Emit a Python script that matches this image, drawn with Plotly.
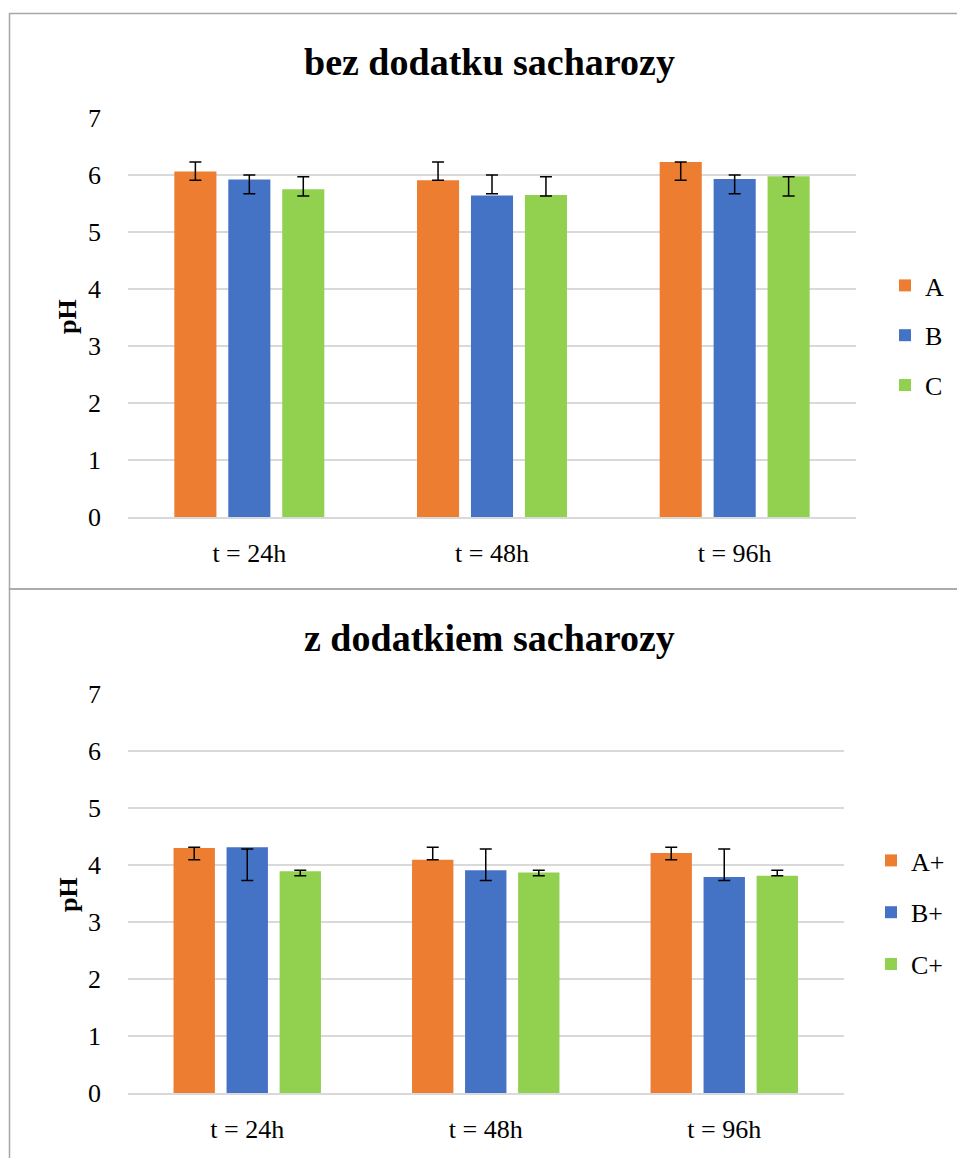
import plotly.graph_objects as go

categories = ["t = 24h", "t = 48h", "t = 96h"]
names_top = ["A", "B", "C"]
names_bottom = ["A+", "B+", "C+"]
colors = ["#ED7D31", "#4472C4", "#92D050"]

# top panel: bez dodatku sacharozy
top_A = [6.06, 5.91, 6.23]
top_B = [5.92, 5.64, 5.93]
top_C = [5.75, 5.65, 5.98]
top_err_hi = [6.23, 6.00, 5.97]   # upper end of error bar per series
top_err_lo = [5.91, 5.67, 5.63]   # lower end of error bar per series

# bottom panel: z dodatkiem sacharozy
bot_A = [4.30, 4.09, 4.21]
bot_B = [4.31, 3.91, 3.79]
bot_C = [3.89, 3.87, 3.81]
bot_err_hi = [4.31, 4.28, 3.91]
bot_err_lo = [4.09, 3.73, 3.81]

W, H = 957, 1158
FONT = "Liberation Serif"

def px_x(p):
    return p / W

def px_y(p):
    return 1 - p / H

fig = go.Figure()

def add_panel(series, names, hi, lo, xa, ya, legend):
    for i, (vals, name) in enumerate(zip(series, names)):
        plus = [hi[i] - v for v in vals]
        minus = [v - lo[i] for v in vals]
        fig.add_trace(go.Bar(
            x=categories, y=vals, name=name,
            marker=dict(color=colors[i], line=dict(width=0)),
            error_y=dict(type="data", symmetric=False, array=plus, arrayminus=minus,
                         color="black", thickness=1.5, width=6),
            xaxis=xa, yaxis=ya, legend=legend, legendgroup=legend + name,
        ))

add_panel([top_A, top_B, top_C], names_top, top_err_hi, top_err_lo, "x", "y", "legend")
add_panel([bot_A, bot_B, bot_C], names_bottom, bot_err_hi, bot_err_lo, "x2", "y2", "legend2")

grid = "#d9d9d9"
yax = dict(range=[0, 7], dtick=1, showgrid=True, gridcolor=grid, gridwidth=1.5,
           zeroline=False, showline=False, ticks="", ticklabelstandoff=26,
           automargin=False,
           tickfont=dict(family=FONT, size=26, color="black"), fixedrange=True)
xax = dict(showline=True, linecolor=grid, linewidth=1.5, ticks="", showgrid=False,
           ticklabelstandoff=12, automargin=False,
           tickfont=dict(family=FONT, size=26, color="black"))

fig.update_layout(
    template="none",
    width=W, height=H, autosize=False,
    margin=dict(l=0, r=0, t=0, b=0, autoexpand=False),
    paper_bgcolor="white", plot_bgcolor="white",
    bargap=0.333, bargroupgap=0.22, barmode="group",
    xaxis=dict(domain=[px_x(128), px_x(856)], anchor="y", **xax),
    yaxis=dict(domain=[px_y(517), px_y(118)], anchor="x", **yax),
    xaxis2=dict(domain=[px_x(128), px_x(843.5)], anchor="y2", **xax),
    yaxis2=dict(domain=[px_y(1093), px_y(694)], anchor="x2", **yax),
    legend=dict(x=px_x(885), y=px_y(262), xanchor="left", yanchor="top",
                font=dict(family=FONT, size=26, color="black"),
                tracegroupgap=13, traceorder="grouped", bgcolor="rgba(0,0,0,0)"),
    legend2=dict(x=px_x(871), y=px_y(837), xanchor="left", yanchor="top",
                 font=dict(family=FONT, size=26, color="black"),
                 tracegroupgap=15, traceorder="grouped", bgcolor="rgba(0,0,0,0)"),
    showlegend=True,
)

annotations = [
    dict(text="<b>bez dodatku sacharozy</b>", x=px_x(490), y=px_y(62)),
    dict(text="<b>z dodatkiem sacharozy</b>", x=px_x(490), y=px_y(638)),
]
for a in annotations:
    fig.add_annotation(xref="paper", yref="paper", xanchor="center", yanchor="middle",
                       showarrow=False, font=dict(family=FONT, size=38, color="black"),
                       x=a["x"], y=a["y"], text=a["text"])
for yc in (317, 895):
    fig.add_annotation(xref="paper", yref="paper", xanchor="center", yanchor="middle",
                       showarrow=False, textangle=-90, text="<b>pH</b>",
                       font=dict(family=FONT, size=26, color="black"),
                       x=px_x(68), y=px_y(yc))

border = dict(color="#a6a6a6", width=1.5)
fig.add_shape(type="rect", xref="paper", yref="paper", x0=px_x(9.5), x1=px_x(970),
              y0=px_y(589), y1=px_y(13.5), line=border, fillcolor="rgba(0,0,0,0)")
fig.add_shape(type="rect", xref="paper", yref="paper", x0=px_x(9.5), x1=px_x(970),
              y0=px_y(1180), y1=px_y(589), line=border, fillcolor="rgba(0,0,0,0)")

fig.write_html(
    "out.html",
    config={"displayModeBar": False},
    post_script="document.body.style.margin='0';document.body.style.padding='0';"
                "document.body.style.overflow='hidden';"
                "document.documentElement.style.overflow='hidden';",
)
